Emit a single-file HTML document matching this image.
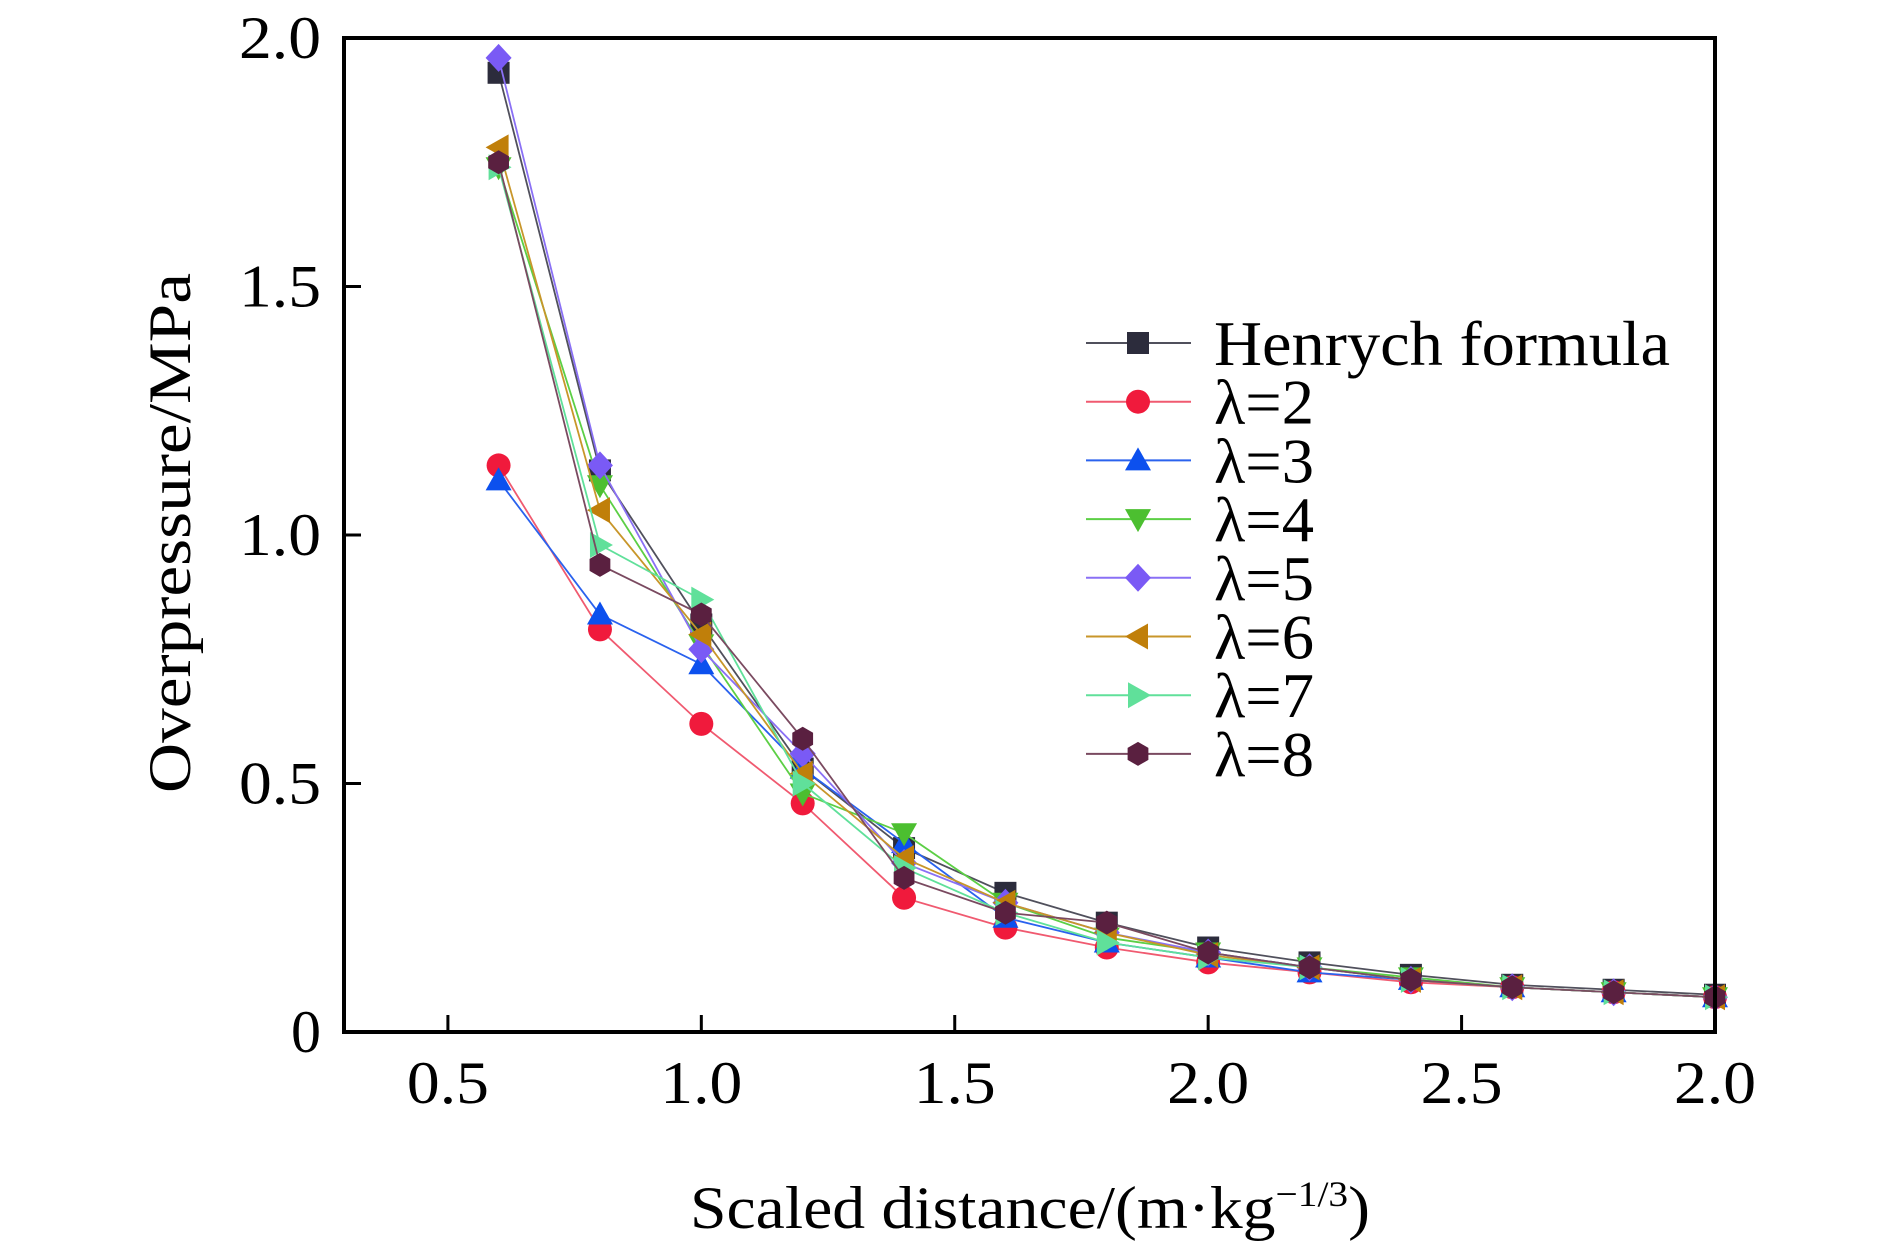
<!DOCTYPE html>
<html><head><meta charset="utf-8"><style>
html,body{margin:0;padding:0;background:#fff;}
svg{display:block;font-family:"Liberation Serif",serif;}
</style></head><body>
<svg id="chart" width="1890" height="1242" viewBox="0 0 1890 1242" xmlns="http://www.w3.org/2000/svg">
<g id="marks"></g>
<g id="axes"></g>
<g id="legend"></g>
</svg>
<script>
const xCats = [0.6,0.8,1.0,1.2,1.4,1.6,1.8,2.0,2.2,2.4,2.6,2.8,3.0];
const henrych = [1.93,1.13,0.82,0.53,0.37,0.28,0.22,0.17,0.14,0.115,0.095,0.085,0.075];
const lam2 = [1.14,0.81,0.62,0.46,0.27,0.21,0.17,0.14,0.12,0.10,0.09,0.08,0.07];
const lam3 = [1.11,0.84,0.74,0.53,0.38,0.23,0.18,0.15,0.12,0.105,0.09,0.08,0.07];
const lam4 = [1.74,1.10,0.78,0.48,0.40,0.26,0.19,0.16,0.13,0.11,0.09,0.08,0.07];
const lam5 = [1.96,1.14,0.77,0.56,0.34,0.26,0.20,0.16,0.13,0.105,0.09,0.08,0.07];
const lam6 = [1.78,1.05,0.80,0.52,0.35,0.26,0.20,0.155,0.13,0.105,0.09,0.08,0.07];
const lam7 = [1.74,0.98,0.87,0.50,0.33,0.24,0.18,0.15,0.13,0.105,0.09,0.08,0.07];
const lam8 = [1.75,0.94,0.84,0.59,0.31,0.24,0.22,0.16,0.13,0.105,0.09,0.08,0.07];
const xTickVals = [0.5,1.0,1.5,2.0,2.5,3.0];
const xTickLabels = ["0.5","1.0","1.5","2.0","2.5","2.0"];
const yTickVals = [0,0.5,1.0,1.5,2.0];
const yTickLabels = ["0","0.5","1.0","1.5","2.0"];
const seriesNames = ["Henrych formula","λ=2","λ=3","λ=4","λ=5","λ=6","λ=7","λ=8"];

const NS="http://www.w3.org/2000/svg";
const L=344,R=1715,T=38,B=1032, X0=0.295,X1=3.0;
const sx=v=>L+(v-X0)/(X1-X0)*(R-L);
const sy=v=>B-v/2.0*(B-T);
function mk(tag,attrs,parent){const e=document.createElementNS(NS,tag);for(const k in attrs)e.setAttribute(k,attrs[k]);parent.appendChild(e);return e;}

const series=[
 {d:henrych,c:"#2c2c3c",lc:"#50505c",m:"square"},
 {d:lam2,c:"#f01a3c",lc:"#f05a70",m:"circle"},
 {d:lam3,c:"#0c50ee",lc:"#2a62ee",m:"up"},
 {d:lam4,c:"#4cbf30",lc:"#5ccf45",m:"down"},
 {d:lam5,c:"#7a5af5",lc:"#8a70f5",m:"diamond"},
 {d:lam6,c:"#c07f0a",lc:"#c8962a",m:"left"},
 {d:lam7,c:"#60e09a",lc:"#60e09a",m:"right"},
 {d:lam8,c:"#5a2040",lc:"#7a4a60",m:"hex"}
];
function marker(type,x,y,c,parent){
 const s=12;let e;
 if(type==="square")e=mk("rect",{x:x-s+1,y:y-s+1,width:2*s-2,height:2*s-2,fill:c},parent);
 else if(type==="circle")e=mk("circle",{cx:x,cy:y,r:s,fill:c},parent);
 else{let p;
  if(type==="up")p=[[x,y-s-1],[x+s+1,y+s-2],[x-s-1,y+s-2]];
  else if(type==="down")p=[[x,y+s+1],[x+s+1,y-s+2],[x-s-1,y-s+2]];
  else if(type==="left")p=[[x-s-1,y],[x+s-2,y-s-1],[x+s-2,y+s+1]];
  else if(type==="right")p=[[x+s+1,y],[x-s+2,y-s-1],[x-s+2,y+s+1]];
  else if(type==="diamond")p=[[x,y-s-2],[x+s+1,y],[x,y+s+2],[x-s-1,y]];
  else{p=[];for(let i=0;i<6;i++){const a=Math.PI/6+i*Math.PI/3;p.push([x+s*Math.cos(a),y+s*Math.sin(a)]);}}
  e=mk("polygon",{points:p.map(q=>q.join(",")).join(" "),fill:c},parent);}
 return e;
}
const gm=document.getElementById("marks");
series.forEach((s,i)=>{
 const g=mk("g",{},gm);
 
 
 const pl=mk("polyline",{points:s.d.map((v,j)=>sx(xCats[j])+","+sy(v)).join(" "),fill:"none",stroke:s.lc,"stroke-width":1.8},g);
 
 
 s.d.forEach((v,j)=>{const e=marker(s.m,sx(xCats[j]),sy(v),s.c,g);
  
  });
});
const ga=document.getElementById("axes");
const frame=mk("rect",{x:L,y:T,width:R-L,height:B-T,fill:"none",stroke:"#000","stroke-width":4},ga);


xTickVals.forEach((v,i)=>{
 const t=mk("line",{x1:sx(v),x2:sx(v),y1:B,y2:B-17,stroke:"#000","stroke-width":3},ga);
 
 
 const tx=mk("text",{x:sx(v),y:1103,"font-size":60,"text-anchor":"middle",textLength:82,lengthAdjust:"spacingAndGlyphs"},ga);
 tx.textContent=xTickLabels[i];
 
 
});
yTickVals.forEach((v,i)=>{
 const t=mk("line",{x1:L,x2:L+17,y1:sy(v),y2:sy(v),stroke:"#000","stroke-width":3},ga);
 
 
 const tx=mk("text",{x:321,y:sy(v)+20,"font-size":60,"text-anchor":"end"},ga);
 if(yTickLabels[i].length>1){tx.setAttribute("textLength",82);tx.setAttribute("lengthAdjust","spacingAndGlyphs");}
 tx.textContent=yTickLabels[i];
 
 
});
const xt=mk("text",{x:1030,y:1228,"font-size":60,"text-anchor":"middle",textLength:680,lengthAdjust:"spacingAndGlyphs"},ga);
xt.innerHTML='Scaled distance/(m·kg<tspan dy="-22" font-size="36">−1/3</tspan><tspan dy="22">)</tspan>';


const yt=mk("text",{x:0,y:0,"font-size":60,"text-anchor":"middle",transform:"translate(190,533) rotate(-90)",textLength:520,lengthAdjust:"spacingAndGlyphs"},ga);
yt.textContent="Overpressure/MPa";



const gl=document.getElementById("legend");
series.forEach((s,i)=>{
 const y=343+i*58.7;
 const g=mk("g",{},gl);
 
 
 mk("line",{x1:1086,x2:1191,y1:y,y2:y,stroke:s.lc,"stroke-width":2},g);
 marker(s.m,1138,y,s.c,g);
 const tx=mk("text",{x:1214,y:y+22,"font-size":64},g);
 if(i===0){tx.setAttribute("textLength",456);tx.setAttribute("lengthAdjust","spacingAndGlyphs");}
 else{tx.setAttribute("textLength",100);tx.setAttribute("lengthAdjust","spacingAndGlyphs");}
 tx.textContent=seriesNames[i];
});
</script>
</body></html>
